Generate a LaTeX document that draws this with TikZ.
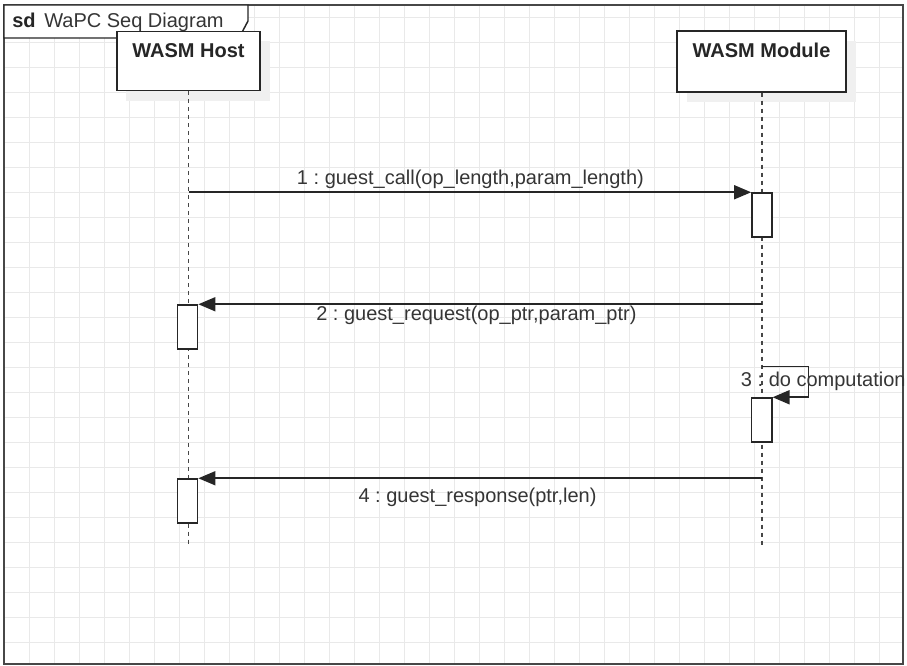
\documentclass[tikz,border=0pt]{standalone}
\usepackage{fontspec}
\setmainfont{Liberation Sans}
\usetikzlibrary{arrows.meta}
\frenchspacing
\definecolor{gridc}{HTML}{E9E9E9}
\definecolor{ink}{HTML}{262626}
\definecolor{txt}{HTML}{353535}
\definecolor{shadowc}{HTML}{F0F0F0}
\tikzset{
  gridline/.style={gridc, line width=0.8pt},
  frameline/.style={ink!85, line width=1.4pt},
  lifebox/.style={draw=ink, fill=white, line width=1.2pt, inner sep=0pt},
  boxtext/.style={text=ink, font=\fontsize{15}{18}\selectfont\bfseries, inner sep=0pt},
  acti/.style={draw=ink, fill=white, line width=1.1pt, inner sep=0pt,
    minimum width=15.2pt, minimum height=33pt},
  lifeline/.style={ink!85, line width=1pt, dash pattern=on 3pt off 3pt},
  msg/.style={ink, line width=1.3pt, -{Triangle[length=12.75pt,width=10.5pt]}},
  msglabel/.style={text=txt, font=\fontsize{15}{18}\selectfont, inner sep=0pt, anchor=base west}
}
\begin{document}
\begin{tikzpicture}[x=0.75pt,y=-0.75pt]
\useasboundingbox (0,0) rectangle (907,666);
% background grid
\begin{scope}
  \clip (4,5) rectangle (903,664);
  \foreach \x in {29.5,54.5,...,904} \draw[gridline] (\x,5) -- (\x,664);
  \foreach \y in {17.5,42.5,...,664} \draw[gridline] (4,\y) -- (903,\y);
\end{scope}
% frame
\draw[frameline] (4,5) rectangle (903,664);
% title tab
\draw[ink, line width=1.1pt, fill=white] (4,5) -- (248,5) -- (248,21) -- (239,38) -- (4,38) -- cycle;
\node[text=ink, font=\fontsize{15}{18}\selectfont\bfseries, inner sep=0pt, anchor=base west] (sdkw) at (12,28) {sd};
\node[text=txt, font=\fontsize{15}{18}\selectfont, inner sep=0pt, anchor=base west] (title) at (44,28) {WaPC Seq Diagram};
% shadows
\fill[shadowc] (126,41) rectangle (270,101);
\fill[shadowc] (687,41) rectangle (856,102);
% lifeline heads
\node[lifebox, minimum width=107.5pt, minimum height=44.25pt] (host) at (188.5,61.2) {};
\node[boxtext, anchor=base] (hostlbl) at (188.5,58) {WASM Host};
\node[lifebox, minimum width=127pt, minimum height=45.5pt] (mod) at (761.5,61.4) {};
\node[boxtext, anchor=base] (modlbl) at (761.5,58) {WASM Module};
% lifelines
\coordinate (hostend) at (188.5,545);
\coordinate (modend) at (762,545);
\draw[lifeline] (host.south) -- (hostend);
\draw[lifeline] (mod.south -| modend) -- (modend);
% activations
\node[acti] (act1) at (762,215) {};
\node[acti] (act2) at (187.5,327) {};
\node[acti] (act3) at (761.7,420) {};
\node[acti] (act4) at (187.5,501) {};
% messages
\draw[msg] (hostend |- act1.north west) -- (act1.north west);
\node[msglabel] (l1) at (296.7,185) {1 : guest\_call(op\_length,param\_length)};
\draw[msg] (modend |- act2.north east) -- (act2.north east);
\node[msglabel] (l2) at (316,321) {2 : guest\_request(op\_ptr,param\_ptr)};
\coordinate (loopA) at (762,366.5);
\coordinate (loopB) at (808.5,366.5);
\draw[msg] (loopA) -- (loopB) -- (loopB |- act3.north east) -- (act3.north east);
\node[msglabel] (l3) at (740.7,386.7) {3 : do computation};
\draw[msg] (modend |- act4.north east) -- (act4.north east);
\node[msglabel] (l4) at (358.3,503) {4 : guest\_response(ptr,len)};
\end{tikzpicture}
\end{document}
